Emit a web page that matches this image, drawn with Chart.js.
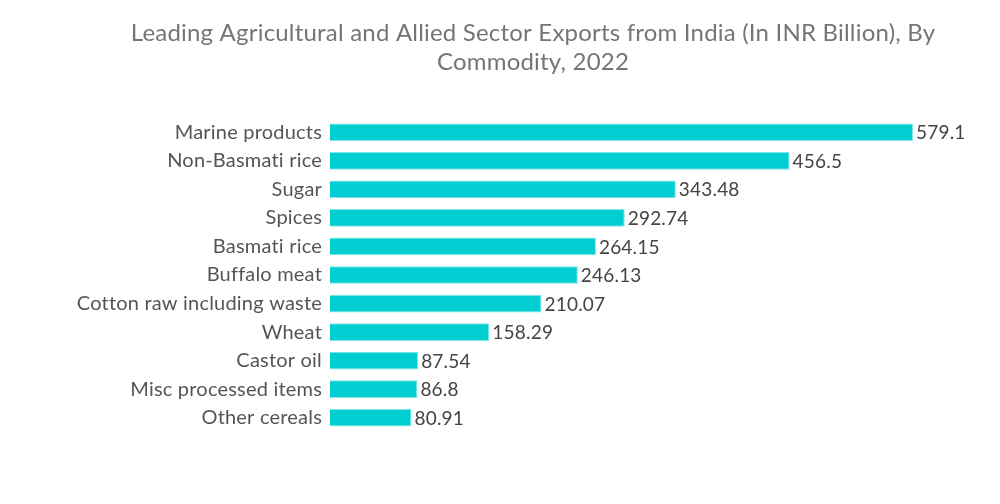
<!DOCTYPE html>
<html>
<head>
<meta charset="utf-8">
<script src="https://cdn.jsdelivr.net/npm/chart.js@4/dist/chart.umd.min.js"></script>
<style>
  html, body { margin: 0; padding: 0; background: #fff; }
  #wrap { width: 1000px; height: 504px; }
</style>
</head>
<body>
<div id="wrap"><canvas id="exports"></canvas></div>
<script>
const commodities = [
  'Marine products', 'Non-Basmati rice', 'Sugar', 'Spices', 'Basmati rice',
  'Buffalo meat', 'Cotton raw including waste', 'Wheat', 'Castor oil',
  'Misc processed items', 'Other cereals'
]
const exportValues = [579.1, 456.5, 343.48, 292.74, 264.15, 246.13, 210.07, 158.29, 87.54, 86.8, 80.91]
const valueLabels = ['579.1', '456.5', '343.48', '292.74', '264.15', '246.13', '210.07', '158.29', '87.54', '86.8', '80.91']
const titleLines = ['Leading Agricultural and Allied Sector Exports from India (In INR Billion), By', 'Commodity, 2022']

// no ligatures ("ti") like the original, and the title centred on the page
const pageText = {
  id: 'pageText',
  beforeDraw(chart) {
    chart.ctx.letterSpacing = '0.2px'
  },
  afterDraw(chart) {
    const ctx = chart.ctx
    ctx.save()
    ctx.font = '24px Lato'
    ctx.fillStyle = '#757575'
    ctx.textAlign = 'center'
    ctx.textBaseline = 'middle'
    ctx.fillText(titleLines[0], 533, 33)
    ctx.fillText(titleLines[1], 533, 62)
    ctx.restore()
  }
}

// draws the value at the end of each bar
const endLabels = {
  id: 'endLabels',
  afterDatasetsDraw(chart) {
    const ctx = chart.ctx
    const meta = chart.getDatasetMeta(0)
    ctx.save()
    ctx.font = '19px Lato'
    ctx.fillStyle = '#444444'
    ctx.textAlign = 'left'
    ctx.textBaseline = 'middle'
    meta.data.forEach((bar, i) => {
      ctx.fillText(valueLabels[i], bar.x + 3, bar.y + 1)
    })
    ctx.restore()
  }
}

new Chart(document.getElementById('exports'), {
  type: 'bar',
  data: {
    labels: commodities,
    datasets: [{
      data: exportValues,
      backgroundColor: '#00ced1',
      borderColor: '#7fe6e8',
      borderWidth: 1,
      barPercentage: 0.62,
      categoryPercentage: 1,
    }],
  },
  options: {
    indexAxis: 'y',
    responsive: true,
    maintainAspectRatio: false,
    animation: false,
    layout: {padding: {top: 118, bottom: 72, left: 0, right: 87}},
    plugins: {
      legend: {display: false},
      tooltip: {enabled: false},
      title: {display: false},
    },
    scales: {
      x: {display: false, min: 0, max: 579.1},
      y: {
        afterFit: (scale) => { scale.width = 330 },
        grid: {display: false, drawTicks: false},
        border: {display: false},
        ticks: {color: '#555555', padding: 8, font: {family: 'Lato', size: 20}},
      },
    },
  },
  plugins: [pageText, endLabels],
})
</script>
</body>
</html>
